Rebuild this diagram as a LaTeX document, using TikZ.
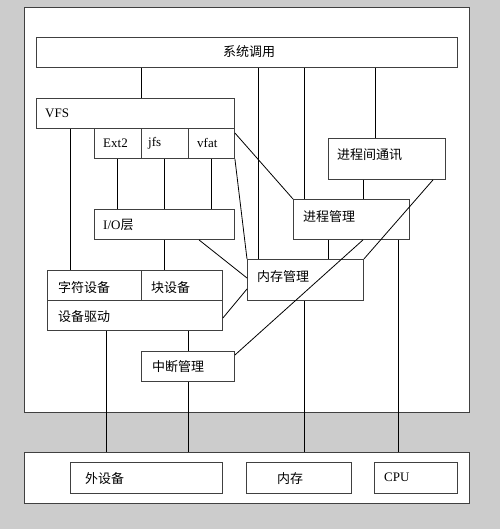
\documentclass[tikz,border=0pt]{standalone}
\usepackage{fontspec}
\setmainfont{Liberation Serif}
\newfontfamily\cjk{Noto Sans CJK SC}
\usetikzlibrary{calc}
\definecolor{bggray}{RGB}{204,204,204}
\definecolor{edge}{RGB}{64,64,64}
\begin{document}
\begin{tikzpicture}[x=1pt,y=-1pt,
  panel/.style={draw=edge,fill=white,line width=1pt,rectangle,inner sep=0pt,anchor=north west},
  box/.style={draw=edge,fill=white,line width=0.9pt,rectangle,inner sep=0pt,anchor=north west},
  lbl/.style={anchor=west,inner sep=0pt,font=\fontsize{13}{15}\selectfont},
  link/.style={draw=black,line width=0.8pt}]
\useasboundingbox (0,0) rectangle (500,529);
\fill[bggray] (0,0) rectangle (500,529);
% panels
\node[panel,minimum width=445pt,minimum height=405pt] (upper) at (24,7) {};
\node[panel,minimum width=445pt,minimum height=51pt] (lower) at (24,452) {};
% boxes
\node[box,minimum width=421pt,minimum height=30pt] (sys) at (36,37) {};
\node[box,minimum width=198pt,minimum height=30pt] (vfs) at (36,98) {};
\node[box,minimum width=47pt,minimum height=30pt] (ext2) at (94,128) {};
\node[box,minimum width=47pt,minimum height=30pt] (jfs) at (141,128) {};
\node[box,minimum width=46pt,minimum height=30pt] (vfat) at (188,128) {};
\node[box,minimum width=140pt,minimum height=30pt] (io) at (94,209) {};
\node[box,minimum width=94pt,minimum height=30pt] (chr) at (47,270) {};
\node[box,minimum width=81pt,minimum height=30pt] (blk) at (141,270) {};
\node[box,minimum width=175pt,minimum height=30pt] (drv) at (47,300) {};
\node[box,minimum width=93pt,minimum height=30pt] (irq) at (141,351) {};
\node[box,minimum width=116pt,minimum height=41pt] (mem) at (247,259) {};
\node[box,minimum width=116pt,minimum height=40pt] (proc) at (293,199) {};
\node[box,minimum width=117pt,minimum height=41pt] (ipc) at (328,138) {};
\node[box,minimum width=152pt,minimum height=31pt] (dev) at (70,462) {};
\node[box,minimum width=105pt,minimum height=31pt] (ram) at (246,462) {};
\node[box,minimum width=83pt,minimum height=31pt] (cpu) at (374,462) {};
% labels
\node[lbl] (sys-t) at (223,52) {\cjk 系统调用};
\node[lbl] (vfs-t) at (45,113) {VFS};
\node[lbl] (ext2-t) at (103,143) {Ext2};
\node[lbl] (jfs-t) at (148,143) {jfs};
\node[lbl] (vfat-t) at (197,143) {vfat};
\node[lbl] (io-t) at (103,225) {I/O{\cjk 层}};
\node[lbl] (chr-t) at (58,288) {\cjk 字符设备};
\node[lbl] (blk-t) at (151,288) {\cjk 块设备};
\node[lbl] (drv-t) at (58,317) {\cjk 设备驱动};
\node[lbl] (irq-t) at (152,367) {\cjk 中断管理};
\node[lbl] (mem-t) at (257,277) {\cjk 内存管理};
\node[lbl] (proc-t) at (303,217) {\cjk 进程管理};
\node[lbl] (ipc-t) at (337,155) {\cjk 进程间通讯};
\node[lbl] (dev-t) at (85,479) {\cjk 外设备};
\node[lbl] (ram-t) at (277,479) {\cjk 内存};
\node[lbl] (cpu-t) at (384,477) {CPU};
% vertical connectors
\draw[link] (sys.south -| 141,0) -- (vfs.north -| 141,0);
\draw[link] (sys.south -| 258,0) -- (mem.north -| 258,0);
\draw[link] (sys.south -| 304,0) -- (proc.north -| 304,0);
\draw[link] (sys.south -| 375,0) -- (ipc.north -| 375,0);
\draw[link] (ipc.south -| 363,0) -- (proc.north -| 363,0);
\draw[link] (proc.south -| 328,0) -- (mem.north -| 328,0);
\draw[link] (proc.south -| 398,0) -- (lower.north -| 398,0);
\draw[link] (mem.south -| 304,0) -- (lower.north -| 304,0);
\draw[link] (vfs.south -| 70,0) -- (chr.north -| 70,0);
\draw[link] (ext2.south -| 117,0) -- (io.north -| 117,0);
\draw[link] (jfs.south -| 164,0) -- (io.north -| 164,0);
\draw[link] (vfat.south -| 211,0) -- (io.north -| 211,0);
\draw[link] (io.south -| 164,0) -- (blk.north -| 164,0);
\draw[link] (drv.south -| 106,0) -- (lower.north -| 106,0);
\draw[link] (drv.south -| 188,0) -- (irq.north -| 188,0);
\draw[link] (irq.south -| 188,0) -- (lower.north -| 188,0);
% diagonal connectors
\draw[link] ($(vfat.north east)+(0,5)$) -- (proc.north west);
\draw[link] (vfat.south east) -- (mem.north west);
\draw[link] (io.south -| 199,0) -- ($(mem.north west)+(0,19)$);
\draw[link] ($(drv.north east)+(0,18)$) -- ($(mem.north west)+(0,30)$);
\draw[link] ($(irq.north east)+(0,4)$) -- (proc.south -| 363,0);
\draw[link] (ipc.south -| 433,0) -- (mem.north east);
\end{tikzpicture}
\end{document}
